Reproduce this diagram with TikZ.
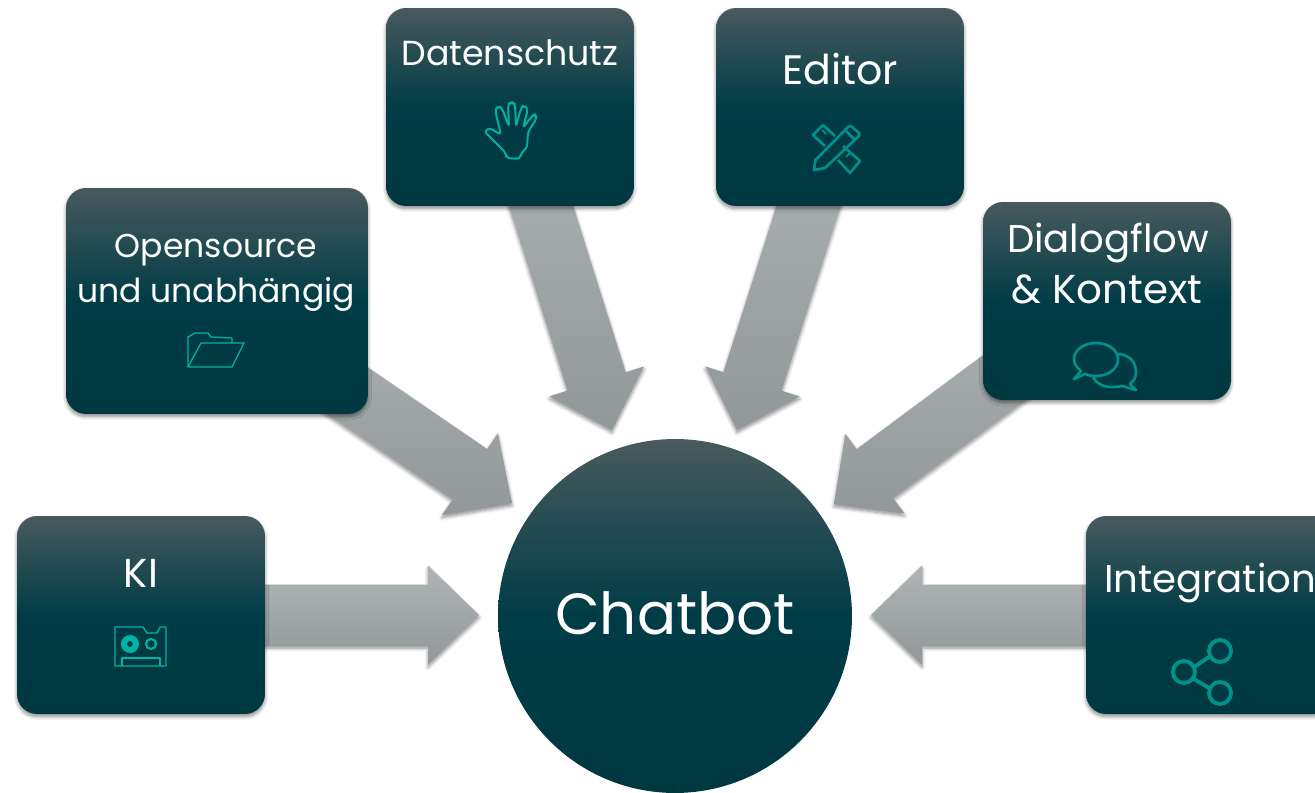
\documentclass[tikz,border=0pt]{standalone}
\usepackage{fontspec}
\setmainfont{Poppins}
\usepackage{tikz}
\usetikzlibrary{calc,backgrounds,shadows.blur}
\definecolor{boxtop}{RGB}{72, 90, 94}
\definecolor{boxmid}{RGB}{0, 60, 70}
\definecolor{boxlow}{RGB}{0, 56, 64}
\definecolor{arrowtop}{RGB}{175, 181, 181}
\definecolor{arrowlow}{RGB}{146, 152, 153}
\definecolor{iconlight}{RGB}{0, 178, 165}
\definecolor{icondark}{RGB}{0, 145, 140}
\tikzset{
	softshadow/.style = {blur shadow = {shadow xshift = 0pt, shadow yshift = -1.5pt, shadow blur radius = 2pt, shadow blur steps = 6, shadow opacity = 45}},
	boxnode/.style = {rectangle, rounded corners = 0.4cm, inner sep = 0pt, minimum width = 4.96cm, minimum height = 3.96cm, top color = boxtop, bottom color = boxlow, middle color = boxmid, softshadow},
	hubnode/.style = {circle, inner sep = 0pt, minimum size = 7.08cm, top color = boxtop, bottom color = boxlow, middle color = boxmid},
	boxtext/.style = {text = white, anchor = base, inner sep = 0pt},
	fatarrow/.style = {top color = arrowtop, bottom color = arrowlow, softshadow},
	thinicon/.style = {draw = iconlight, line width = 0.75pt, line join = round},
	thickicon/.style = {draw = icondark, line width = 1.5pt, line join = round}
}
\newcommand{\sizedat}[1]{\fontsize{#1}{#1}\selectfont}
\newcommand{\fatarrowfrom}[2]{
	\coordinate (h) at ($(#2)!1.02cm!(#1)$);
	\shade[fatarrow] ($(#1)!0.61cm!90:(#2)$) -- ($(h)!0.61cm!90:(#2)$) -- ($(h)!0.99cm!90:(#2)$) -- (#2) -- ($(h)!0.99cm!-90:(#2)$) -- ($(h)!0.61cm!-90:(#2)$) -- ($(#1)!0.61cm!-90:(#2)$) -- cycle;
}
\begin{document}
\begin{tikzpicture}[x = 0.02cm, y = -0.02cm]
	\useasboundingbox (0,0) rectangle (1315,793);
	\node (chatbot) at (675,616) [hubnode] {};
	\node (ki) at (141,615) [boxnode] {};
	\node (opensource) at (217,301) [boxnode, minimum width = 6.04cm, minimum height = 4.52cm] {};
	\node (datenschutz) at (510,107) [boxnode] {};
	\node (editor) at (840,107) [boxnode] {};
	\node (dialogflow) at (1107,301) [boxnode] {};
	\node (integration) at (1210,615) [boxnode] {};
	\coordinate (kitip) at (479,615);
	\coordinate (opensourcetip) at (512,503);
	\coordinate (datenschutztip) at (612,430);
	\coordinate (editortip) at (737,430);
	\coordinate (dialogflowtip) at (834,504);
	\coordinate (integrationtip) at (871,615);
	\begin{scope}[on background layer]
		\fatarrowfrom{ki}{kitip}
		\fatarrowfrom{opensource}{opensourcetip}
		\fatarrowfrom{datenschutz}{datenschutztip}
		\fatarrowfrom{editor}{editortip}
		\fatarrowfrom{dialogflow}{dialogflowtip}
		\fatarrowfrom{integration}{integrationtip}
	\end{scope}
	\node (chatbotlabel) at (675,634) [boxtext, font = \sizedat{33}] {Chatbot};
	\node (kilabel) at (141,587) [boxtext, font = \sizedat{23}] {KI};
	\node (opensourcelabel) at (216,258) [boxtext, font = \sizedat{18.8}] {Opensource};
	\node (unabhaengiglabel) at (216,303) [boxtext, font = \sizedat{18.8}] {und unabhängig};
	\node (datenschutzlabel) at (510,66) [boxtext, font = \sizedat{19.8}] {Datenschutz};
	\node (editorlabel) at (840,85) [boxtext, font = \sizedat{23.4}] {Editor};
	\node (dialogflowlabel) at (1108,253) [boxtext, font = \sizedat{22}] {Dialogflow};
	\node (kontextlabel) at (1107,304) [boxtext, font = \sizedat{23}] {\& Kontext};
	\node (integrationlabel) at (1210,592) [boxtext, font = \sizedat{22}] {Integration};
	% cassette
	\draw[thinicon] (115,627) -- (143,627) -- (147,633) -- (157,633) -- (160,627) -- (166,627) -- (166,666) -- (115,666) -- cycle;
	\draw[thinicon] (122,666) -- (122,658) -- (160,658) -- (160,666);
	\draw[iconlight, line width = 3.4pt] (130,644) circle (6);
	\draw[iconlight, line width = 1.2pt] (151,644) circle (5);
	% folder
	\draw[thinicon] (188,367) -- (188,337) -- (195,333) -- (208,333) -- (211,337) -- (232,338) -- (232,343);
	\draw[thinicon] (201,343) -- (244,343) -- (232,367) -- (188,367) -- cycle;
	% hand
	\draw[thinicon, line width = 1.1pt, rounded corners = 2pt] (506,153) -- (495,142) -- (484,131) -- (490,128) -- (501,135) -- (495,110) -- (498,106) -- (502,108) -- (509,127) -- (508,104) -- (512,102) -- (515,104) -- (516,127) -- (521,108) -- (524,105) -- (528,109) -- (523,128) -- (532,116) -- (535,114) -- (537,118) -- (528,132) -- (527,148) -- (521,153) -- (520,159) -- (506,158) -- cycle;
	% pencil and ruler
	\draw[thickicon] (814,170) -- (815.5,160) -- (848,127) -- (851,126) -- (859,133) -- (859,136) -- (825,168) -- cycle;
	\draw[thickicon] (846,131) -- (855,140);
	\draw[thickicon] (825,146) -- (813,135) -- (823,125) -- (835,136);
	\draw[thickicon] (843,146) -- (860,161) -- (850,173) -- (838,160);
	\draw[thickicon, line width = 1pt] (822,130) -- (826,134);
	\draw[thickicon, line width = 1pt] (850,153) -- (846,157);
	% speech bubbles
	\draw[thickicon] (1074,379) -- (1081,371) .. controls (1076,367) and (1074,363) .. (1074,359) .. controls (1074,350) and (1084,343) .. (1096,343) .. controls (1108,343) and (1118,350) .. (1118,359) .. controls (1118,369) and (1108,376) .. (1096,376) .. controls (1091,376) and (1088,375) .. (1085,374) -- cycle;
	\draw[thickicon] (1117,354) .. controls (1129,354) and (1136,362) .. (1136,372) .. controls (1136,377) and (1134,381) .. (1130,384) -- (1136,390) -- (1122,386) .. controls (1108,389) and (1098,386) .. (1093,377);
	% share
	\draw[thickicon, line width = 2.2pt] (1194,667) -- (1209,657);
	\draw[thickicon, line width = 2.2pt] (1194,679) -- (1209,688);
	\draw[thickicon, line width = 2.2pt] (1220,651) circle (11);
	\draw[thickicon, line width = 2.2pt] (1184,672) circle (11);
	\draw[thickicon, line width = 2.2pt] (1220,693) circle (11);
\end{tikzpicture}
\end{document}
